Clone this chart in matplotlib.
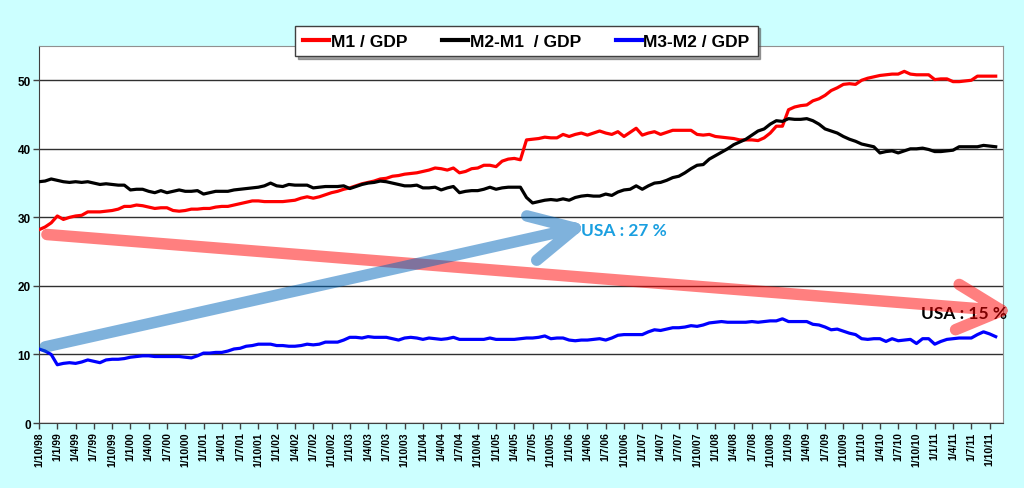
import numpy as np
import matplotlib.pyplot as plt
from matplotlib.path import Path
from matplotlib.patches import PathPatch
from matplotlib.transforms import IdentityTransform

# monthly ratios (%), Oct 1998 .. Nov 2011
m1_gdp = [28.2, 28.6, 29.2, 30.2, 29.7, 30.0, 30.2, 30.3, 30.8, 30.8, 30.8, 30.9,
          31.0, 31.2, 31.6, 31.6, 31.8, 31.7, 31.5, 31.3, 31.4, 31.4, 31.0, 30.9,
          31.0, 31.2, 31.2, 31.3, 31.3, 31.5, 31.6, 31.6, 31.8, 32.0, 32.2, 32.4,
          32.4, 32.3, 32.3, 32.3, 32.3, 32.4, 32.5, 32.8, 33.0, 32.8, 33.0, 33.3,
          33.6, 33.8, 34.1, 34.3, 34.6, 34.9, 35.1, 35.3, 35.6, 35.7, 36.0, 36.1,
          36.3, 36.4, 36.5, 36.7, 36.9, 37.2, 37.1, 36.9, 37.2, 36.5, 36.7, 37.1,
          37.2, 37.6, 37.6, 37.4, 38.2, 38.5, 38.6, 38.4, 41.3, 41.4, 41.5, 41.7,
          41.6, 41.6, 42.1, 41.8, 42.1, 42.3, 42.0, 42.3, 42.6, 42.3, 42.1, 42.5,
          41.8, 42.4, 43.0, 42.0, 42.3, 42.5, 42.1, 42.4, 42.7, 42.7, 42.7, 42.7,
          42.1, 42.0, 42.1, 41.8, 41.7, 41.6, 41.5, 41.3, 41.3, 41.3, 41.2, 41.6,
          42.3, 43.3, 43.3, 45.7, 46.1, 46.3, 46.4, 47.0, 47.3, 47.8, 48.5, 48.9,
          49.4, 49.5, 49.4, 50.0, 50.3, 50.5, 50.7, 50.8, 50.9, 50.9, 51.3, 50.9,
          50.8, 50.8, 50.8, 50.1, 50.2, 50.2, 49.8, 49.8, 49.9, 50.0, 50.6, 50.6,
          50.6, 50.6]

m2m1_gdp = [35.2, 35.3, 35.6, 35.4, 35.2, 35.1, 35.2, 35.1, 35.2, 35.0, 34.8, 34.9,
            34.8, 34.7, 34.7, 34.0, 34.1, 34.1, 33.8, 33.6, 33.9, 33.6, 33.8, 34.0,
            33.8, 33.8, 33.9, 33.4, 33.6, 33.8, 33.8, 33.8, 34.0, 34.1, 34.2, 34.3,
            34.4, 34.6, 35.0, 34.6, 34.5, 34.8, 34.7, 34.7, 34.7, 34.3, 34.4, 34.5,
            34.5, 34.5, 34.6, 34.2, 34.5, 34.8, 35.0, 35.1, 35.3, 35.2, 35.0, 34.8,
            34.6, 34.6, 34.7, 34.3, 34.3, 34.4, 34.0, 34.3, 34.5, 33.6, 33.8, 33.9,
            33.9, 34.1, 34.4, 34.1, 34.3, 34.4, 34.4, 34.4, 32.9, 32.1, 32.3, 32.5,
            32.6, 32.5, 32.7, 32.5, 32.9, 33.1, 33.2, 33.1, 33.1, 33.4, 33.2, 33.7,
            34.0, 34.1, 34.6, 34.1, 34.6, 35.0, 35.1, 35.4, 35.8, 36.0, 36.5, 37.1,
            37.6, 37.7, 38.5, 39.0, 39.5, 40.0, 40.6, 41.0, 41.4, 42.0, 42.6, 42.9,
            43.6, 44.1, 44.0, 44.4, 44.3, 44.3, 44.4, 44.1, 43.6, 42.9, 42.6, 42.3,
            41.8, 41.4, 41.1, 40.7, 40.5, 40.3, 39.4, 39.6, 39.7, 39.4, 39.7, 40.0,
            40.0, 40.1, 39.9, 39.6, 39.6, 39.7, 39.8, 40.3, 40.3, 40.3, 40.3, 40.5,
            40.4, 40.3]

m3m2_gdp = [10.8, 10.5, 10.0, 8.5, 8.7, 8.8, 8.7, 8.9, 9.2, 9.0, 8.8, 9.2,
            9.3, 9.3, 9.4, 9.6, 9.7, 9.8, 9.8, 9.7, 9.7, 9.7, 9.7, 9.7,
            9.6, 9.5, 9.8, 10.2, 10.2, 10.3, 10.3, 10.5, 10.8, 10.9, 11.2, 11.3,
            11.5, 11.5, 11.5, 11.3, 11.3, 11.2, 11.2, 11.3, 11.5, 11.4, 11.5, 11.8,
            11.8, 11.8, 12.1, 12.5, 12.5, 12.4, 12.6, 12.5, 12.5, 12.5, 12.3, 12.1,
            12.4, 12.5, 12.4, 12.2, 12.4, 12.3, 12.2, 12.3, 12.5, 12.2, 12.2, 12.2,
            12.2, 12.2, 12.4, 12.2, 12.2, 12.2, 12.2, 12.3, 12.4, 12.4, 12.5, 12.7,
            12.3, 12.4, 12.4, 12.1, 12.0, 12.1, 12.1, 12.2, 12.3, 12.1, 12.4, 12.8,
            12.9, 12.9, 12.9, 12.9, 13.3, 13.6, 13.5, 13.7, 13.9, 13.9, 14.0, 14.2,
            14.1, 14.3, 14.6, 14.7, 14.8, 14.7, 14.7, 14.7, 14.7, 14.8, 14.7, 14.8,
            14.9, 14.9, 15.2, 14.8, 14.8, 14.8, 14.8, 14.4, 14.3, 14.0, 13.6, 13.7,
            13.4, 13.1, 12.9, 12.3, 12.2, 12.3, 12.3, 11.9, 12.3, 12.0, 12.1, 12.2,
            11.6, 12.3, 12.3, 11.5, 11.9, 12.2, 12.3, 12.4, 12.4, 12.4, 12.9, 13.3,
            13.0, 12.6]

tick_labels = []
for yr in range(1998, 2012):
    for mo in (1, 4, 7, 10):
        if (yr == 1998 and mo < 10):
            continue
        tick_labels.append("1/%d/%02d" % (mo, yr % 100))

# trend arrows: (start month, start value) -> (end month, end value)
red_arrow = ((1.3, 27.5), (158.0, 16.4))
blue_arrow = ((1.0, 11.1), (88.0, 28.4))

months = np.arange(len(m1_gdp))

fig = plt.figure(figsize=(10.24, 4.89), dpi=100, facecolor='#CCFFFF')
ax = fig.add_axes([0.0381, 0.1329, 0.9414, 0.771])
ax.set_facecolor('white')

ax.plot(months, m1_gdp, color='#FF0000', lw=2.3, label='M1 / GDP', zorder=3)
ax.plot(months, m2m1_gdp, color='black', lw=2.3, label='M2-M1  / GDP', zorder=3)
ax.plot(months, m3m2_gdp, color='#0000FF', lw=2.3, label='M3-M2 / GDP', zorder=3)

ax.set_xlim(0, 158.2)
ax.set_ylim(0, 55)
ax.set_yticks([0, 10, 20, 30, 40, 50])
ax.yaxis.grid(True, color='#303030', lw=1.0)
ax.set_axisbelow(True)
ax.set_xticks(np.arange(0, 157, 3))
ax.set_xticklabels(tick_labels, rotation=90, fontsize=7.5, fontweight='bold',
                   family='Liberation Sans')
for lab in ax.get_yticklabels():
    lab.set_fontweight('bold')
    lab.set_family('Liberation Sans')
    lab.set_fontsize(8.5)
ax.tick_params(axis='both', direction='out', length=4, width=1, color='#404040', pad=2)

for side in ('top', 'right'):
    ax.spines[side].set_color('#909090')
for side in ('left', 'bottom'):
    ax.spines[side].set_color('#404040')


def chevron_arrow(start, end, color, width=11.5, arm=50, angle=27):
    # shaft plus open ">" head, one path so the alpha does not stack
    p0 = ax.transData.transform(start)
    p1 = ax.transData.transform(end)
    d = (p0 - p1) / np.hypot(*(p0 - p1))
    a = np.radians(angle)
    rot = lambda v, t: np.array([v[0] * np.cos(t) - v[1] * np.sin(t),
                                 v[0] * np.sin(t) + v[1] * np.cos(t)])
    e1 = p1 + arm * rot(d, a)
    e2 = p1 + arm * rot(d, -a)
    verts = [p0, p1, e1, p1, e2]
    codes = [Path.MOVETO, Path.LINETO, Path.MOVETO, Path.LINETO, Path.LINETO]
    patch = PathPatch(Path(verts, codes), transform=IdentityTransform(),
                      facecolor='none', edgecolor=color, alpha=0.5,
                      lw=width * 0.72, capstyle='round', joinstyle='round',
                      zorder=4)
    fig.add_artist(patch)


chevron_arrow(red_arrow[0], red_arrow[1], '#FF0000')
chevron_arrow(blue_arrow[0], blue_arrow[1], '#0066BB')

ax.text(89.0, 28.2, 'USA : 27 %', color='#1A9FE0', fontsize=12.5, fontweight='bold',
        family='Lato', va='center', ha='left', zorder=5)
ax.text(144.8, 16.0, 'USA : 15 %', color='black', fontsize=12.5, fontweight='bold',
        family='Lato', va='center', ha='left', zorder=5, clip_on=False)

leg = fig.legend(loc='center', bbox_to_anchor=(0.514, 0.914), ncol=3, frameon=True,
                 shadow=True, fancybox=False, handlelength=1.5, columnspacing=2.0,
                 handletextpad=0.1, borderpad=0.45,
                 prop={'family': 'Liberation Sans', 'weight': 'bold', 'size': 12.5})
leg.get_frame().set_edgecolor('#404040')
leg.get_frame().set_linewidth(1.0)
for h in leg.get_lines():
    h.set_linewidth(3)

fig.savefig('out.png', dpi=100, facecolor=fig.get_facecolor())
